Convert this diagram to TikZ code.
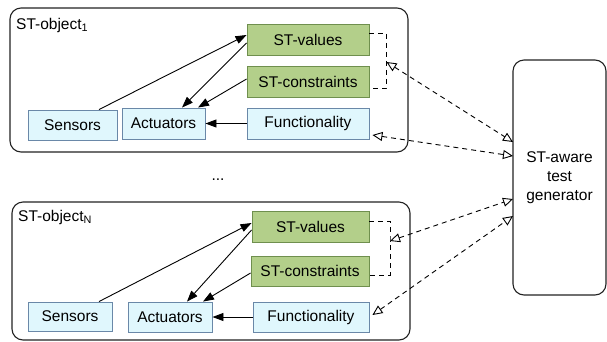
\documentclass[tikz,border=0pt]{standalone}
\usepackage{fontspec}
\setmainfont{Liberation Sans}
\usetikzlibrary{arrows.meta,calc}
\definecolor{gfill}{HTML}{B3CF8A}
\definecolor{gdraw}{HTML}{6F8F4E}
\definecolor{bfill}{HTML}{E0F7FD}
\definecolor{bdraw}{HTML}{6A88A8}
\definecolor{cdraw}{HTML}{222222}
\tikzset{
  txt/.style={font=\fontsize{15.5}{18}\selectfont},
  gbox/.style={txt,draw=gdraw,fill=gfill,line width=0.9pt,inner sep=0pt,anchor=center},
  bbox/.style={txt,draw=bdraw,fill=bfill,line width=0.9pt,inner sep=0pt,anchor=center},
  container/.style={draw=cdraw,line width=1.1pt,rounded corners=11pt,inner sep=0pt},
  solidarrow/.style={line width=0.9pt,-{Triangle[length=11pt,width=8pt]}},
  dasharrow/.style={line width=0.9pt,dash pattern=on 5pt off 4pt,{Triangle[open,length=10pt,width=9pt,line width=0.9pt]}-{Triangle[open,length=10pt,width=9pt,line width=0.9pt]}},
  bracket/.style={line width=0.9pt,dash pattern=on 5pt off 4pt},
}
\begin{document}
\begin{tikzpicture}[x=1pt,y=-1pt]
\useasboundingbox (0,0) rectangle (607,341);
% containers
\node[container,minimum width=398pt,minimum height=144pt] (objA) at (209,80) {};
\node[container,minimum width=398pt,minimum height=138pt] (objB) at (211,271) {};
\node[container,font=\fontsize{15.5}{19}\selectfont,minimum width=93pt,minimum height=235pt,align=center] (gen) at (559.5,177.5) {ST-aware\\test\\generator};
\node[txt,anchor=west,inner sep=0pt] (labA) at (16,25) {ST-object\textsubscript{1}};
\node[txt,anchor=west,inner sep=0pt] (labB) at (18,217) {ST-object\textsubscript{N}};
\node[txt,inner sep=0pt] (dots) at (218,180) {...};
% top object
\node[gbox,minimum width=122pt,minimum height=31pt] (valsA) at (308,39.5) {ST-values};
\node[gbox,minimum width=122pt,minimum height=31pt] (consA) at (308,81.5) {ST-constraints};
\node[bbox,minimum width=122pt,minimum height=31pt] (funcA) at (308,123.5) {Functionality};
\node[bbox,minimum width=89pt,minimum height=30pt] (sensA) at (72.5,125) {Sensors};
\node[bbox,minimum width=83pt,minimum height=31pt] (actA) at (163.5,123.5) {Actuators};
% bottom object
\node[gbox,minimum width=117pt,minimum height=31pt] (valsB) at (310.5,226.5) {ST-values};
\node[gbox,minimum width=118pt,minimum height=30pt] (consB) at (310,271) {ST-constraints};
\node[bbox,minimum width=116pt,minimum height=30pt] (funcB) at (311,317) {Functionality};
\node[bbox,minimum width=84pt,minimum height=29pt] (sensB) at (70,316.5) {Sensors};
\node[bbox,minimum width=84pt,minimum height=30pt] (actB) at (170,317) {Actuators};
% inner arrows top
\draw[solidarrow] ([xshift=26.5pt]sensA.north) -- ([yshift=4.5pt]valsA.west);
\draw[solidarrow] ([yshift=-3.5pt]valsA.west) -- ([xshift=18.5pt]actA.north);
\draw[solidarrow] ([yshift=2.5pt]consA.west) -- ([xshift=34.5pt]actA.north);
\draw[solidarrow] (funcA.west) -- (actA.east);
% inner arrows bottom
\draw[solidarrow] ([xshift=29pt]sensB.north) -- ([yshift=3.5pt]valsB.west);
\draw[solidarrow] ([yshift=-3.5pt]valsB.west) -- ([xshift=17pt]actB.north);
\draw[solidarrow] ([yshift=-2pt]consB.west) -- ([xshift=33pt]actB.north);
\draw[solidarrow] (funcB.west) -- (actB.east);
% brackets
\coordinate (brA) at (386.5,62);
\coordinate (brB) at (390,241);
\draw[bracket] ([yshift=6.5pt]valsA.east) -| (brA) |- ([yshift=-6.5pt]consA.east);
\draw[bracket] ([yshift=5.5pt]valsB.east) -| (brB) |- ([yshift=-4pt]consB.east);
% generator connections
\coordinate (g1) at (513,142);
\coordinate (g2) at (513,156);
\coordinate (g3) at (513,199);
\coordinate (g4) at (513,216);
\draw[dasharrow] (brA) -- (g1);
\draw[dasharrow] ([xshift=3pt,yshift=-11.5pt]funcA.east) -- (g2);
\draw[dasharrow] (brB) -- (g3);
\draw[dasharrow] ([xshift=3pt,yshift=2pt]funcB.east) -- (g4);
\end{tikzpicture}
\end{document}
